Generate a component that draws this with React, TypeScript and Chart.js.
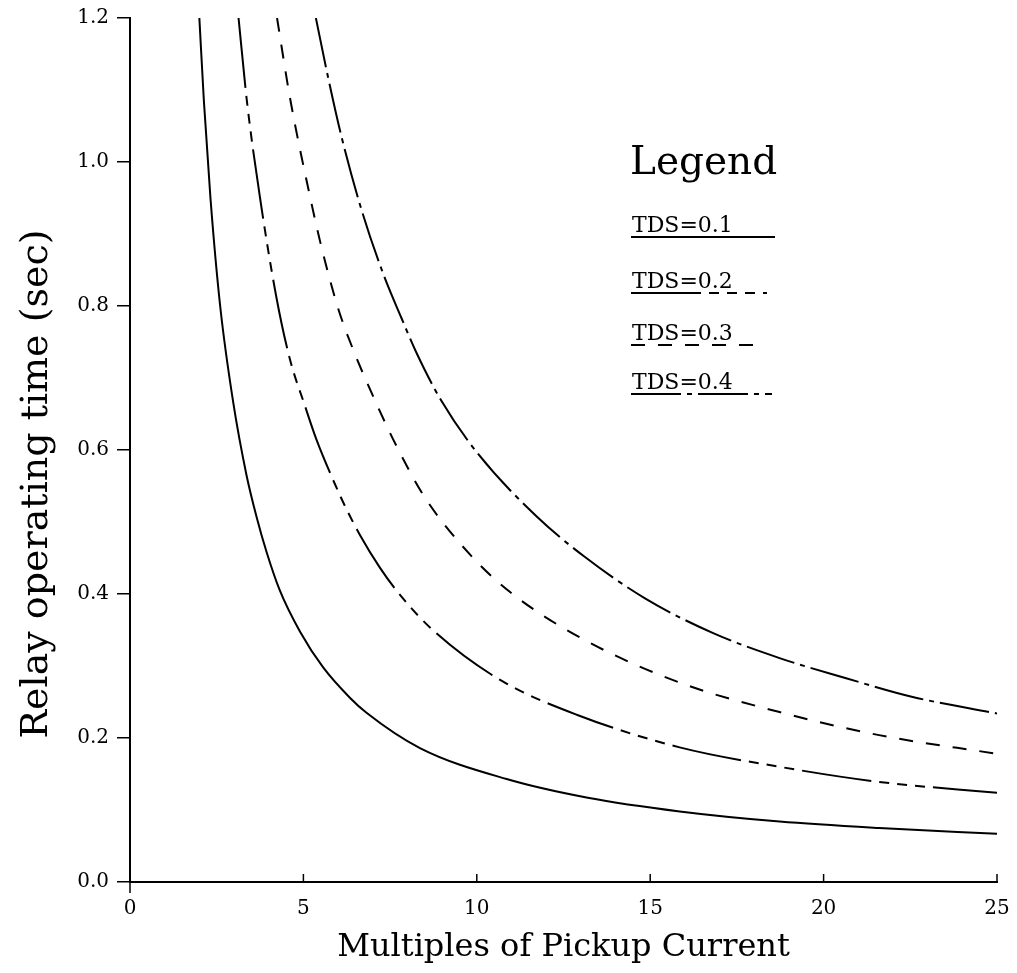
import React, { useEffect, useRef } from "react";
import { Chart, registerables } from "chart.js";

Chart.register(...registerables);

const SERIES_LABELS = ["TDS=0.1", "TDS=0.2", "TDS=0.3", "TDS=0.4"];

const TDS1_X = [2.0, 2.13, 2.32, 2.6, 2.98, 3.36, 3.65, 3.94, 4.32, 4.9, 5.57, 6.34, 6.82, 8.36, 10.86, 13.2, 15.85, 18.73, 21.6, 25];
const TDS1_Y = [1.2, 1.085, 0.95, 0.8, 0.665, 0.565, 0.507, 0.458, 0.405, 0.348, 0.298, 0.256, 0.235, 0.186, 0.143, 0.117, 0.098, 0.084, 0.075, 0.067];

const TDS2_X = [3.13, 3.37, 3.75, 4.21, 4.6, 5.04, 5.38, 5.86, 6.2, 6.63, 7.2, 7.78, 8.73, 10.66, 12.9, 15.85, 18.73, 21.6, 25];
const TDS2_Y = [1.2, 1.085, 0.95, 0.815, 0.728, 0.662, 0.614, 0.558, 0.522, 0.482, 0.437, 0.399, 0.35, 0.281, 0.232, 0.187, 0.16, 0.139, 0.124];

const TDS3_X = [4.24, 4.61, 5.19, 5.52, 6.0, 6.43, 7.1, 7.69, 8.49, 9.8, 10.95, 13.0, 15.85, 18.73, 21.6, 25];
const TDS3_Y = [1.2, 1.09, 0.952, 0.882, 0.797, 0.74, 0.665, 0.605, 0.535, 0.455, 0.403, 0.339, 0.277, 0.236, 0.204, 0.178];

const TDS4_X = [5.36, 5.71, 6.1, 6.68, 7.3, 7.83, 8.26, 8.97, 10.03, 11.72, 13.1, 14.85, 16.8, 18.73, 20.65, 22.57, 25];
const TDS4_Y = [1.2, 1.118, 1.035, 0.933, 0.845, 0.783, 0.735, 0.669, 0.595, 0.508, 0.452, 0.394, 0.346, 0.311, 0.283, 0.257, 0.234];

const X_TICKS = [0, 5, 10, 15, 20, 25];
const Y_TICKS = [0, 0.2, 0.4, 0.6, 0.8, 1.0, 1.2];

const X_TITLE = "Multiples of Pickup Current";
const Y_TITLE = "Relay operating time (sec)";
const LEGEND_TITLE = "Legend";

const DASHES = [[], [70, 8, 10, 8, 10, 8, 10, 8], [14, 13], [50, 6, 5, 6]];

const FONT = "'DejaVu Serif', 'Liberation Serif', serif";

function toPoints(xs: number[], ys: number[]) {
  return xs.map((x, i) => ({ x, y: ys[i] }));
}

const customPlugin = {
  id: "customDecor",
  afterDraw(chart: any) {
    const ctx = chart.ctx;
    const area = chart.chartArea;
    const xs = chart.scales.x;
    ctx.save();
    // inward x ticks
    ctx.strokeStyle = "#000";
    ctx.lineWidth = 1.5;
    X_TICKS.forEach((v) => {
      const px = xs.getPixelForValue(v);
      ctx.beginPath();
      if (v === 0) {
        ctx.moveTo(px, area.bottom);
        ctx.lineTo(px, area.bottom + 11);
      } else {
        ctx.moveTo(px, area.bottom);
        ctx.lineTo(px, area.bottom - 8);
      }
      ctx.stroke();
    });
    // y title
    ctx.fillStyle = "#000";
    ctx.font = `38px ${FONT}`;
    ctx.textAlign = "center";
    ctx.textBaseline = "middle";
    ctx.translate(37, (area.top + area.bottom) / 2 + 34);
    ctx.rotate(-Math.PI / 2);
    ctx.fillText(Y_TITLE, 0, 0);
    ctx.restore();

    // legend box
    ctx.save();
    ctx.fillStyle = "#000";
    ctx.strokeStyle = "#000";
    ctx.textAlign = "left";
    ctx.textBaseline = "alphabetic";
    ctx.font = `39px ${FONT}`;
    const lx = 631;
    ctx.fillText(LEGEND_TITLE, lx - 1, 174);
    const baselines = [232, 288, 340, 389];
    const lineEnds = [775, 767, 762, 772];
    ctx.font = `22px ${FONT}`;
    chart.data.datasets.forEach((ds: any, i: number) => {
      ctx.fillText(ds.label, lx + 1, baselines[i]);
      ctx.beginPath();
      ctx.setLineDash(ds.borderDash || []);
      ctx.lineWidth = 1.8;
      ctx.moveTo(lx, baselines[i] + 5);
      ctx.lineTo(lineEnds[i], baselines[i] + 5);
      ctx.stroke();
      ctx.setLineDash([]);
    });
    ctx.restore();
  },
};

export default function App() {
  const ref = useRef<HTMLCanvasElement | null>(null);
  useEffect(() => {
    if (!ref.current) return;
    Chart.defaults.font.family = FONT;
    const series = [
      toPoints(TDS1_X, TDS1_Y),
      toPoints(TDS2_X, TDS2_Y),
      toPoints(TDS3_X, TDS3_Y),
      toPoints(TDS4_X, TDS4_Y),
    ];
    const chart = new Chart(ref.current, {
      type: "line",
      data: {
        datasets: series.map((pts, i) => ({
          label: SERIES_LABELS[i],
          data: pts,
          borderColor: "#000",
          backgroundColor: "#000",
          borderWidth: 2,
          borderDash: DASHES[i],
          pointRadius: 0,
          fill: false,
          cubicInterpolationMode: "monotone" as const,
        })),
      },
      options: {
        animation: false,
        responsive: false,
        layout: { padding: { left: 0, top: 18, right: 20, bottom: 0 } },
        plugins: { legend: { display: false }, tooltip: { enabled: false } },
        scales: {
          x: {
            type: "linear",
            min: 0,
            max: 25,
            afterFit: (s: any) => {
              s.height = 91;
              s.paddingLeft = 0;
              s.paddingRight = 0;
            },
            afterBuildTicks: (s: any) => {
              s.ticks = X_TICKS.map((v) => ({ value: v }));
            },
            ticks: {
              color: "#000",
              font: { size: 20, family: FONT },
              padding: 15,
              maxRotation: 0,
              callback: (v: any) => String(v),
            },
            grid: { drawOnChartArea: false, drawTicks: false },
            border: { display: true, color: "#000", width: 2 },
            title: {
              display: true,
              text: X_TITLE,
              color: "#000",
              font: { size: 32, family: FONT },
              padding: { top: 0, bottom: 6 },
            },
          },
          y: {
            type: "linear",
            min: 0,
            max: 1.2,
            afterFit: (s: any) => {
              s.width = 130;
              s.paddingTop = 0;
              s.paddingBottom = 0;
            },
            afterBuildTicks: (s: any) => {
              s.ticks = Y_TICKS.map((v) => ({ value: v }));
            },
            ticks: {
              color: "#000",
              font: { size: 20, family: FONT },
              padding: 8,
              callback: (v: any) => Number(v).toFixed(1),
            },
            grid: {
              drawOnChartArea: false,
              drawTicks: true,
              tickLength: 13,
              color: "#000",
              lineWidth: 1.5,
            },
            border: { display: true, color: "#000", width: 2 },
          },
        },
      },
      plugins: [customPlugin],
    });
    return () => chart.destroy();
  }, []);
  return (
    <canvas
      ref={ref}
      width={1017}
      height={973}
      style={{ position: "absolute", left: 0, top: 0, width: 1017, height: 973 }}
    />
  );
}
